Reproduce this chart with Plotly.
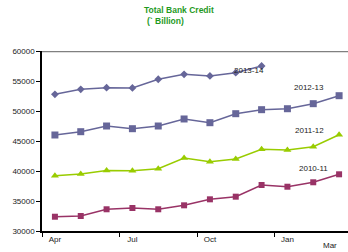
import plotly.graph_objects as go

months = ["Apr", "May", "Jun", "Jul", "Aug", "Sep", "Oct", "Nov", "Dec", "Jan", "Feb", "Mar"]
s2010_11 = [32380, 32500, 33620, 33830, 33620, 34280, 35280, 35720, 37670, 37380, 38120, 39450]
s2011_12 = [39220, 39500, 40080, 40050, 40380, 42170, 41550, 42000, 43620, 43500, 44050, 46050]
s2012_13 = [46000, 46550, 47500, 47050, 47500, 48670, 48050, 49550, 50220, 50380, 51220, 52550]
s2013_14 = [52780, 53620, 53890, 53850, 55290, 56120, 55840, 56390, 57500]
series_names = ["2010-11", "2011-12", "2012-13", "2013-14"]
y_ticks = [30000, 35000, 40000, 45000, 50000, 55000, 60000]

fig = go.Figure()
fig.add_trace(go.Scatter(x=months, y=s2010_11, mode="lines+markers", name=series_names[0],
                         line=dict(color="#993366", width=1.5),
                         marker=dict(symbol="square", size=6, color="#993366")))
fig.add_trace(go.Scatter(x=months, y=s2011_12, mode="lines+markers", name=series_names[1],
                         line=dict(color="#99cc00", width=1.5),
                         marker=dict(symbol="triangle-up", size=7, color="#99cc00")))
fig.add_trace(go.Scatter(x=months, y=s2012_13, mode="lines+markers", name=series_names[2],
                         line=dict(color="#666699", width=1.5),
                         marker=dict(symbol="square", size=7, color="#666699")))
fig.add_trace(go.Scatter(x=months[:len(s2013_14)], y=s2013_14, mode="lines+markers", name=series_names[3],
                         line=dict(color="#666699", width=1.5),
                         marker=dict(symbol="diamond", size=6, color="#666699")))

label_font = dict(family="Liberation Sans, Arial", size=8, color="#222222")
# series label anchor positions (category index, value)
label_pos = [(10.0, 40500), (9.85, 46700), (9.85, 54000), (7.5, 56700)]
for txt, (xi, yv) in zip(series_names, label_pos):
    fig.add_annotation(x=xi, y=yv, text=txt, showarrow=False, font=label_font, xref="x", yref="y")

fig.add_annotation(x=months[11], y=0, yref="paper", yshift=-8, xshift=-9, text="Mar", showarrow=False,
                   font=label_font, yanchor="top")

title_font = dict(family="Liberation Sans, Arial", size=8.5, color="#1f9a1f")
fig.add_annotation(x=0.5, xref="paper", y=1, yref="paper", yshift=34, xshift=-16, text="<b>Total Bank Credit</b>",
                   showarrow=False, font=title_font, yanchor="bottom")
fig.add_annotation(x=0.5, xref="paper", y=1, yref="paper", yshift=23, xshift=-30, text="<b>(` Billion)</b>",
                   showarrow=False, font=title_font, yanchor="bottom")

fig.add_shape(type="line", xref="paper", yref="y", x0=0, x1=1, y0=60000, y1=60000,
              line=dict(color="#808080", width=2.5))

fig.update_layout(
    width=348, height=252,
    margin=dict(l=42, r=0, t=51, b=21, autoexpand=False),
    paper_bgcolor="white", plot_bgcolor="white",
    showlegend=False,
    xaxis=dict(type="category", categoryorder="array", categoryarray=months,
               range=[-0.5, 11.345], dtick=3, tickson="boundaries", automargin=False,
               showgrid=False, showline=True, linecolor="black", linewidth=1.5,
               ticks="outside", ticklen=4, tickcolor="black",
               tickfont=label_font),
    yaxis=dict(range=[30000, 60000], tickvals=y_ticks, tickformat="d", showgrid=False, showline=True,
               linecolor="black", linewidth=1.5, ticks="outside", ticklen=4, tickcolor="black",
               tickfont=label_font, zeroline=False, automargin=False),
)
fig.write_html("out.html", config={"displayModeBar": False},
               post_script="document.body.style.margin='0';document.body.style.overflow='hidden';")
